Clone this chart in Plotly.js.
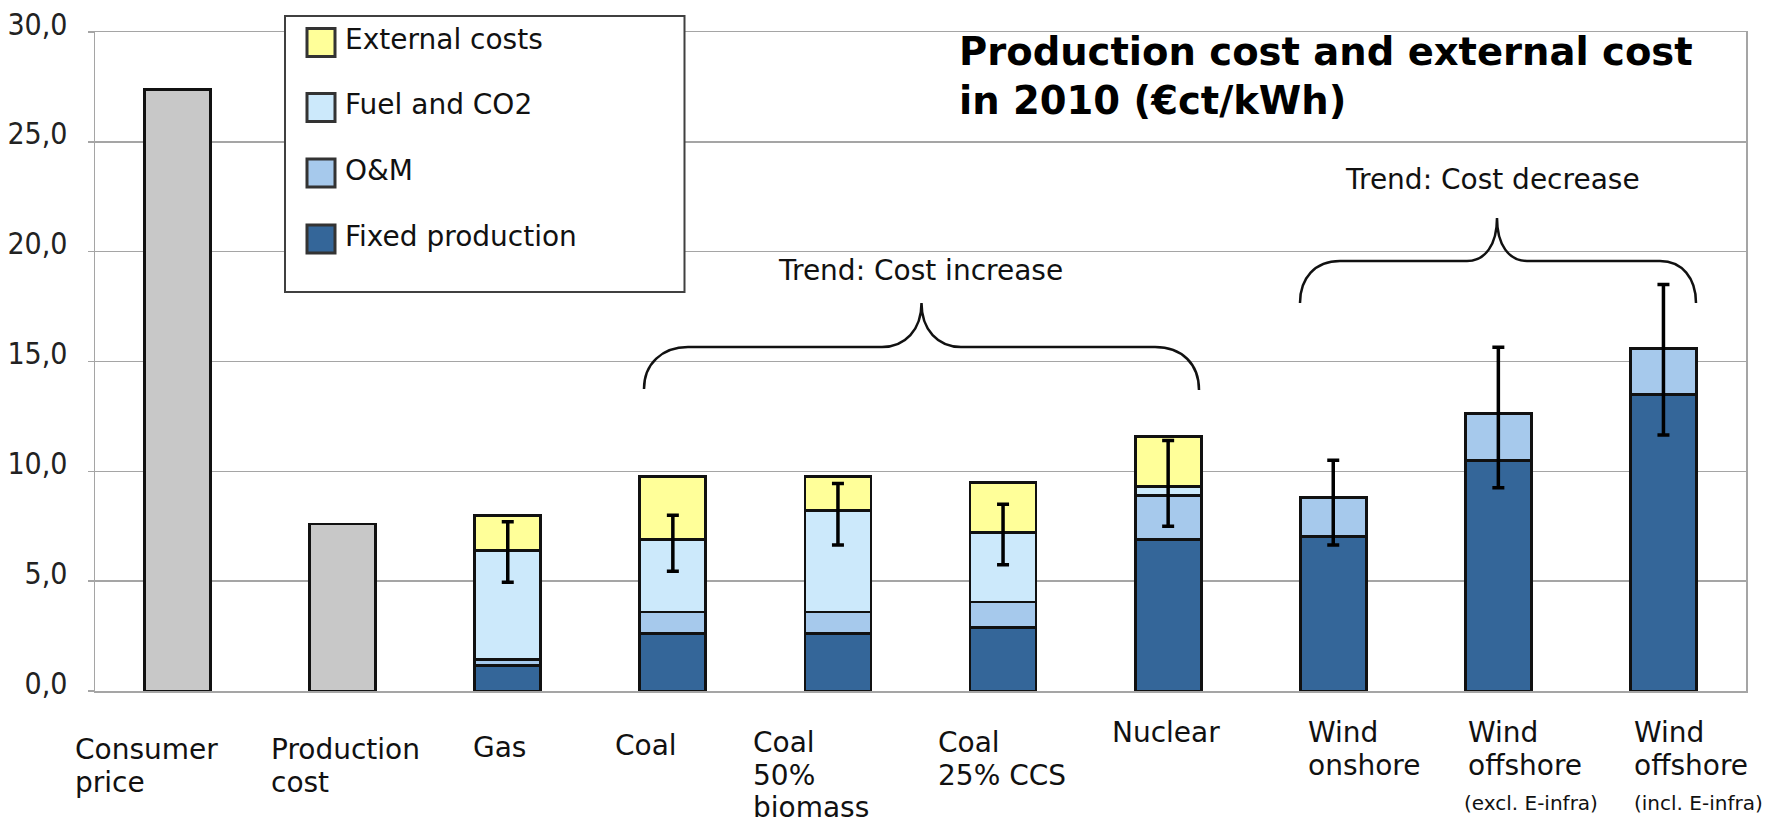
<!DOCTYPE html>
<html>
<head>
<meta charset="utf-8">
<script src="https://cdn.plot.ly/plotly-3.0.1.min.js"></script>
<style>html,body{margin:0;padding:0;background:#fff;}#chart{width:1777px;height:826px;}</style>
</head>
<body>
<div id="chart"></div>
<script>
// ---------------- data ----------------
const categories = ["Consumer price", "Production cost", "Gas", "Coal", "Coal 50% biomass",
  "Coal 25% CCS", "Nuclear", "Wind onshore", "Wind offshore (excl. E-infra)", "Wind offshore (incl. E-infra)"];
const categoryLabelLines = [["Consumer", "price"], ["Production", "cost"], ["Gas"], ["Coal"],
  ["Coal", "50%", "biomass"], ["Coal", "25% CCS"], ["Nuclear"], ["Wind", "onshore"],
  ["Wind", "offshore"], ["Wind", "offshore"]];
const categoryNotes = [null, null, null, null, null, null, null, null, "(excl. E-infra)", "(incl. E-infra)"];

const totalPrice       = [27.4, 7.6, null, null, null, null, null, null, null, null];
const fixedProduction  = [null, null, 1.15, 2.6, 2.6, 2.9, 6.9, 7.05, 10.5, 13.5];
const omCost           = [null, null, 0.3, 1.0, 1.0, 1.15, 2.0, 1.75, 2.15, 2.1];
const fuelCO2          = [null, null, 4.95, 3.3, 4.6, 3.15, 0.4, null, null, null];
const externalCosts    = [null, null, 1.6, 2.85, 1.55, 2.3, 2.3, null, null, null];
const rangeLow         = [null, null, 4.95, 5.45, 6.65, 5.75, 7.5, 6.65, 9.25, 11.65];
const rangeHigh        = [null, null, 7.7, 8.0, 9.45, 8.5, 11.4, 10.5, 15.65, 18.5];

const seriesNames = ["External costs", "Fuel and CO2", "O&M", "Fixed production"];
const yTickValues = [0, 5, 10, 15, 20, 25, 30];
const titleLines = ["Production cost and external cost", "in 2010 (€ct/kWh)"];
const trendTexts = ["Trend: Cost increase", "Trend: Cost decrease"];

// ---------------- styling ----------------
const W = 1777, H = 826;
const L = 95, R = 1746, T = 32, B = 691;
const px2x = p => (p - L) / (R - L);
const py2y = p => (B - p) / (B - T);

const colors = {
  "External costs": "#FFFF99",
  "Fuel and CO2": "#CCE9FB",
  "O&M": "#A6C9EC",
  "Fixed production": "#346699",
  total: "#C8C8C8"
};
const outline = {color: "#111111", width: 2.8};
const FONT = "DejaVu Sans, Verdana, sans-serif";
const FS = 28;

function barTrace(name, vals, color) {
  return {type: "bar", name: name, x: categories, y: vals, width: 0.4,
    marker: {color: color, line: outline}, showlegend: false, hoverinfo: "y+name"};
}

const rangeMid = rangeLow.map((v, i) => v == null ? null : (v + rangeHigh[i]) / 2);
const rangeHalf = rangeLow.map((v, i) => v == null ? null : (rangeHigh[i] - v) / 2);

const traces = [
  barTrace("Total", totalPrice, colors.total),
  barTrace("Fixed production", fixedProduction, colors["Fixed production"]),
  barTrace("O&M", omCost, colors["O&M"]),
  barTrace("Fuel and CO2", fuelCO2, colors["Fuel and CO2"]),
  barTrace("External costs", externalCosts, colors["External costs"]),
  {type: "scatter", mode: "markers", name: "Range", x: categories, y: rangeMid,
    marker: {size: 1, color: "rgba(0,0,0,0)"}, showlegend: false, hoverinfo: "skip",
    error_y: {type: "data", array: rangeHalf, visible: true, color: "#000", thickness: 3.5, width: 6}}
];

// label layout (pixel offsets / centers)
const labelLayout = [
  {dx: -105, ys: [750, 782.5]},
  {dx: -73.5, ys: [750, 782.5]},
  {dx: -37, ys: [748]},
  {dx: -59.5, ys: [746]},
  {dx: -87, ys: [743, 775, 807]},
  {dx: -67.5, ys: [742, 775]},
  {dx: -58, ys: [732]},
  {dx: -27, ys: [732, 765]},
  {dx: -32.5, ys: [732, 765], note: {dx: -36, y: 803}},
  {dx: -31, ys: [732, 765], note: {dx: -31.5, y: 803}}
];

const annotations = [];
categoryLabelLines.forEach((lines, i) => {
  lines.forEach((t, j) => {
    annotations.push({xref: "x", yref: "paper", x: categories[i], xshift: labelLayout[i].dx,
      y: py2y(labelLayout[i].ys[j]), xanchor: "left", yanchor: "middle", showarrow: false,
      text: t, font: {family: FONT, size: FS, color: "#111"}});
  });
  if (categoryNotes[i]) {
    annotations.push({xref: "x", yref: "paper", x: categories[i], xshift: labelLayout[i].note.dx,
      y: py2y(labelLayout[i].note.y), xanchor: "left", yanchor: "middle", showarrow: false,
      text: categoryNotes[i], font: {family: FONT, size: 20, color: "#111"}});
  }
});

// title
[52, 100].forEach((cy, j) => {
  annotations.push({xref: "paper", yref: "paper", x: px2x(957), y: py2y(cy), xanchor: "left", yanchor: "middle",
    showarrow: false, text: "<b>" + titleLines[j] + "</b>", font: {family: FONT, size: 38.5, color: "#000"}});
});

// trend texts
[[921, 270], [1492, 180]].forEach((p, j) => {
  annotations.push({xref: "paper", yref: "paper", x: px2x(p[0]), y: py2y(p[1]), xanchor: "center", yanchor: "middle",
    showarrow: false, text: trendTexts[j], font: {family: FONT, size: FS, color: "#111"}});
});

// legend (drawn manually)
const shapes = [];
shapes.push({type: "rect", xref: "paper", yref: "paper", x0: px2x(285), x1: px2x(684.5), y0: py2y(16), y1: py2y(292),
  fillcolor: "#fff", line: {color: "#404040", width: 2}, layer: "above"});
const swatchY = [42.5, 107.5, 173, 239];
seriesNames.forEach((n, k) => {
  const cy = swatchY[k];
  shapes.push({type: "rect", xref: "paper", yref: "paper", x0: px2x(307), x1: px2x(335), y0: py2y(cy - 14), y1: py2y(cy + 14),
    fillcolor: colors[n], line: {color: "#333", width: 3}, layer: "above"});
  annotations.push({xref: "paper", yref: "paper", x: px2x(343), y: py2y(cy - 2.5), xanchor: "left", yanchor: "middle",
    showarrow: false, text: n, font: {family: FONT, size: FS, color: "#111"}});
});

// braces
function pathFrom(cmds) {
  return cmds.map(c => c[0] + c.slice(1).map((v, idx) => idx % 2 === 0 ? px2x(v) : py2y(v)).join(",")).join(" ");
}
const brace1 = [["M", 644, 389], ["C", 644, 364, 662, 347, 688, 347], ["L", 882, 347],
  ["C", 905, 347, 921.5, 330, 921.5, 303], ["C", 921.5, 330, 938, 347, 961, 347], ["L", 1155, 347],
  ["C", 1182, 347, 1199, 364, 1199, 390]];
const brace2 = [["M", 1300, 303], ["C", 1300, 278, 1315, 261, 1340, 261], ["L", 1467, 261],
  ["C", 1485, 261, 1497, 245, 1497, 218], ["C", 1497, 245, 1509, 261, 1527, 261], ["L", 1660, 261],
  ["C", 1682, 261, 1696, 278, 1696, 303]];
[brace1, brace2].forEach(b => shapes.push({type: "path", xref: "paper", yref: "paper", path: pathFrom(b),
  line: {color: "#111", width: 2.5}, layer: "above"}));

const layout = {
  width: W, height: H,
  margin: {l: L, r: W - R, t: T, b: H - B, pad: 0},
  paper_bgcolor: "#fff", plot_bgcolor: "#fff",
  barmode: "stack",
  separators: ",.",
  showlegend: false,
  xaxis: {type: "category", range: [-0.5, categories.length - 0.5], autorange: false,
    showticklabels: false, ticks: "", showgrid: false,
    showline: true, linecolor: "#a5a5a5", linewidth: 1.5, mirror: true, fixedrange: true},
  yaxis: {range: [0, 30], autorange: false, tickvals: yTickValues, tickformat: ".1f", showgrid: true, gridcolor: "#a5a5a5", gridwidth: 1.5,
    zeroline: false, showline: true, linecolor: "#a5a5a5", linewidth: 1.5, mirror: true,
    ticks: "outside", ticklen: 6, tickcolor: "#a5a5a5", tickwidth: 1.5,
    ticklabelshift: -8, ticklabelstandoff: 14,
    tickfont: {family: "DejaVu Sans Condensed, Liberation Sans Narrow, sans-serif", size: 30, color: "#222"}},
  annotations: annotations,
  shapes: shapes
};

Plotly.newPlot("chart", traces, layout, {displayModeBar: false, staticPlot: true});
</script>
</body>
</html>
